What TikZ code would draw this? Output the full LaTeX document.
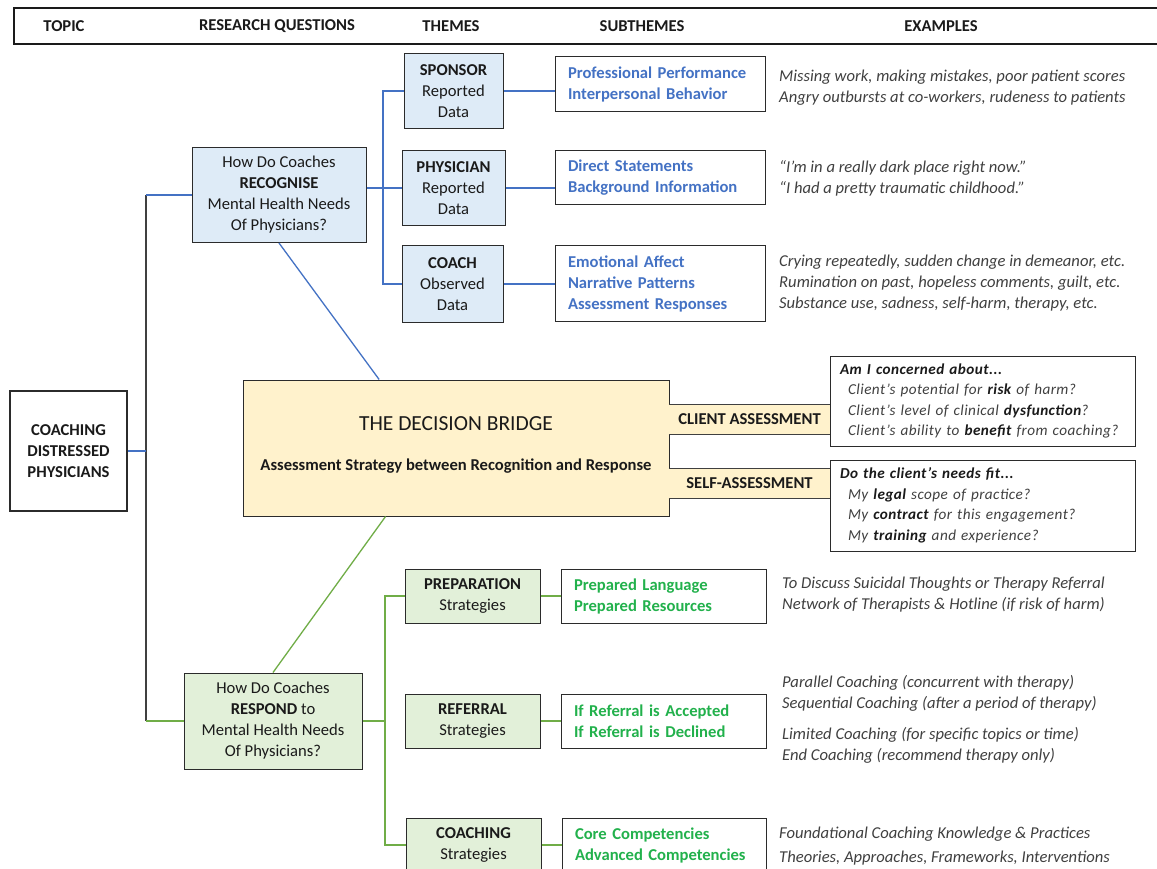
\documentclass[tikz,border=0pt]{standalone}
\usepackage{fontspec}
\setmainfont{Carlito}
\usetikzlibrary{calc}
\definecolor{bluel}{HTML}{4472C4}
\definecolor{greenl}{HTML}{70AD47}
\definecolor{greent}{HTML}{22B14C}
\definecolor{bluefill}{HTML}{DEEBF7}
\definecolor{greenfill}{HTML}{E2F0D9}
\definecolor{yellowf}{HTML}{FFF2CC}
\definecolor{bordc}{HTML}{2B2B2B}
\definecolor{txtc}{HTML}{1A1A1A}
\definecolor{exc}{HTML}{404040}
\definecolor{darkl}{HTML}{404040}
\newcommand\bodyf{\fontsize{16.6}{21}\selectfont}
\newcommand\qf{\fontsize{15.2}{20.5}\selectfont\itshape\addfontfeatures{LetterSpace=3}}
\newcommand\kb[1]{\textcolor{txtc}{\textbf{#1}}}
\tikzset{
  box/.style={draw=bordc, line width=1pt, inner sep=0pt, align=center, font=\bodyf, text=txtc},
  bluebox/.style={box, fill=bluefill},
  greenbox/.style={box, fill=greenfill},
  subbox/.style={draw=bordc, line width=1pt, inner xsep=13pt, inner ysep=0pt, align=left, font=\bodyf\bfseries},
  ex/.style={anchor=west, align=left, inner sep=0pt, font=\bodyf\itshape, text=exc},
  htext/.style={inner sep=0pt, font=\bodyf\bfseries, text=txtc},
  band/.style={fill=yellowf, inner sep=0pt, minimum width=161pt, minimum height=29pt, font=\bodyf\bfseries, text=txtc},
  qbox/.style={draw=bordc, line width=1pt, inner xsep=10pt, inner ysep=0pt, align=left, text width=285pt, minimum height=90pt, font=\qf, text=exc, fill=white},
  bl/.style={draw=bluel, line width=1.3pt},
  gl/.style={draw=greenl, line width=1.3pt},
  dl/.style={draw=darkl, line width=1.1pt},
}
\begin{document}
\begin{tikzpicture}[x=1pt,y=-1pt]
\useasboundingbox[fill=white] (0,0) rectangle (1157,869);

% header
\node[draw=txtc, line width=1.8pt, minimum width=1146pt, minimum height=36pt, inner sep=0pt] (header) at (587,26) {};
\node[htext] (hTopic) at (64,26.5) {TOPIC};
\node[htext] (hRQ) at (277,26.5) {RESEARCH QUESTIONS};
\node[htext] (hTh) at (451,26.5) {THEMES};
\node[htext] (hSub) at (642,26.5) {SUBTHEMES};
\node[htext] (hEx) at (941,26.5) {EXAMPLES};

% topic
\node[box, line width=1.8pt, minimum width=117pt, minimum height=120pt, font=\bodyf\bfseries] (topic) at (68.5,451) {COACHING\\DISTRESSED\\PHYSICIANS};

% recognise branch
\node[bluebox, minimum width=174pt, minimum height=95pt] (recog) at (279,195) {How Do Coaches\\\textbf{RECOGNISE}\\Mental Health Needs\\Of Physicians?};
\node[bluebox, minimum width=99pt, minimum height=75pt] (spons) at (453.5,91) {\textbf{SPONSOR}\\Reported\\Data};
\node[bluebox, minimum width=103pt, minimum height=75pt] (phys) at (453.5,188) {\textbf{PHYSICIAN}\\Reported\\Data};
\node[bluebox, minimum width=101pt, minimum height=76pt] (coach) at (452.5,284) {\textbf{COACH}\\Observed\\Data};

\node[subbox, text=bluel, text width=184pt, minimum height=55pt] (spsub) at (660,84.5) {Professional Performance\\Interpersonal Behavior};
\node[subbox, text=bluel, text width=184pt, minimum height=54pt] (physub) at (660,178) {Direct Statements\\Background Information};
\node[subbox, text=bluel, text width=184pt, minimum height=75pt] (cosub) at (660,283.5) {Emotional Affect\\Narrative Patterns\\Assessment Responses};

\node[ex] (ex1) at (779,87.5) {Missing work, making mistakes, poor patient scores\\Angry outbursts at co-workers, rudeness to patients};
\node[ex] (ex2) at (779,178) {“I’m in a really dark place right now.”\\“I had a pretty traumatic childhood.”};
\node[ex] (ex3) at (779,283) {Crying repeatedly, sudden change in demeanor, etc.\\Rumination on past, hopeless comments, guilt, etc.\\Substance use, sadness, self-harm, therapy, etc.};

% decision bridge
\node[box, fill=yellowf, minimum width=426pt, minimum height=136pt] (bridge) at (456,448) {};
\node[inner sep=0pt, font=\fontsize{21.5}{26}\selectfont, text=txtc] (btitle) at (456,424) {THE DECISION BRIDGE};
\node[inner sep=0pt, font=\bodyf\bfseries, text=txtc] (bsub) at (456,466) {Assessment Strategy between Recognition and Response};

\node[band] (cband) at (749.5,419.5) {CLIENT ASSESSMENT};
\node[band] (sband) at (749.5,483.5) {SELF-ASSESSMENT};
\draw[dl] (cband.north west) -- (cband.north east);
\draw[dl] (cband.south west) -- (cband.south east);
\draw[dl] (sband.north west) -- (sband.north east);
\draw[dl] (sband.south west) -- (sband.south east);

\node[qbox] (cbox) at (982.5,401) {\kb{Am I concerned about...}\\
\hspace*{8pt}Client’s potential for \kb{risk} of harm?\\
\hspace*{8pt}Client’s level of clinical \kb{dysfunction}?\\
\hspace*{8pt}Client’s ability to \kb{benefit} from coaching?};
\node[qbox, minimum height=91pt] (sbox) at (982.5,505.5) {\kb{Do the client’s needs fit...}\\
\hspace*{8pt}My \kb{legal} scope of practice?\\
\hspace*{8pt}My \kb{contract} for this engagement?\\
\hspace*{8pt}My \kb{training} and experience?};

% respond branch
\node[greenbox, minimum width=178pt, minimum height=96pt] (respond) at (273,721) {How Do Coaches\\\textbf{RESPOND} to\\Mental Health Needs\\Of Physicians?};
\node[greenbox, minimum width=135pt, minimum height=54pt] (prep) at (472.5,596) {\textbf{PREPARATION}\\Strategies};
\node[greenbox, minimum width=135pt, minimum height=54pt] (refer) at (472.5,721) {\textbf{REFERRAL}\\Strategies};
\node[greenbox, minimum width=135pt, minimum height=54pt] (coaching) at (473.5,845) {\textbf{COACHING}\\Strategies};

\node[subbox, text=greent, text width=179pt, minimum height=54pt] (prepsub) at (663.5,596) {Prepared Language\\Prepared Resources};
\node[subbox, text=greent, text width=179pt, minimum height=54pt] (refsub) at (663.5,721) {If Referral is Accepted\\If Referral is Declined};
\node[subbox, text=greent, text width=178pt, minimum height=54pt] (coachsub) at (664,845) {Core Competencies\\Advanced Competencies};

\node[ex] (ex4) at (782,595) {To Discuss Suicidal Thoughts or Therapy Referral\\Network of Therapists \& Hotline (if risk of harm)};
\node[ex] (ex5) at (782,693) {Parallel Coaching (concurrent with therapy)\\Sequential Coaching (after a period of therapy)};
\node[ex] (ex6) at (782,745.5) {Limited Coaching (for specific topics or time)\\End Coaching (recommend therapy only)};
\node[ex] (ex7) at (779,846) {Foundational Coaching Knowledge \& Practices\\[3pt]Theories, Approaches, Frameworks, Interventions};

% connectors
\coordinate (ltrunk) at (146,451);
\coordinate (rtrunk) at (383,188);
\coordinate (gtrunk) at (385,721);

\draw[dl] (ltrunk |- recog.west) -- (ltrunk |- respond.west);
\draw[bl] (topic.east) -- (ltrunk);
\draw[bl] (ltrunk |- recog.west) -- (recog.west);
\draw[gl] (ltrunk |- respond.west) -- (respond.west);

\draw[bl] (recog.east |- phys.west) -- (phys.west);
\draw[bl] (spons.west) -- (spons.west -| rtrunk) |- (coach.west);
\draw[bl] (spons.east) -- (spsub.west |- spons.east);
\draw[bl] (phys.east) -- (physub.west |- phys.east);
\draw[bl] (coach.east) -- (cosub.west |- coach.east);

\draw[bl] (recog.south) -- ($(bridge.north west)!0.32!(bridge.north east)$);
\draw[gl] ($(bridge.south west)!0.335!(bridge.south east)$) -- (respond.north);

\draw[gl] (respond.east) -- (gtrunk);
\draw[gl] (prep.west) -- (prep.west -| gtrunk) |- (coaching.west);
\draw[gl] (prep.east) -- (prepsub.west |- prep.east);
\draw[gl] (refer.east) -- (refsub.west |- refer.east);
\draw[gl] (coaching.east) -- (coachsub.west |- coaching.east);
\end{tikzpicture}
\end{document}
